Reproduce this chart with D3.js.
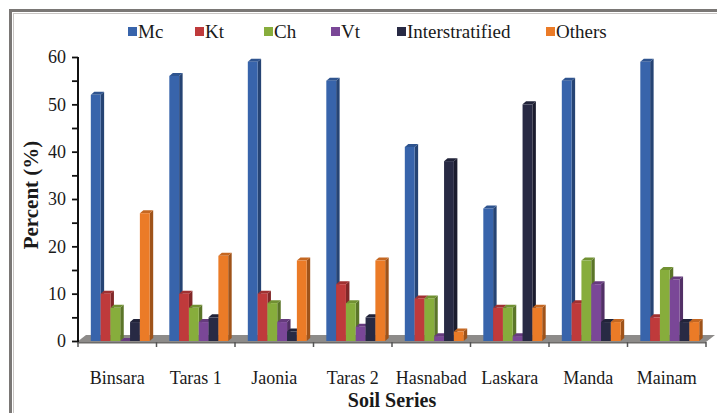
<!DOCTYPE html>
<html>
<head>
<meta charset="utf-8">
<script src="https://cdn.jsdelivr.net/npm/d3@7/dist/d3.min.js"></script>
<style>
  html, body { margin: 0; padding: 0; background: #ffffff; }
  svg text { font-family: "Liberation Serif", "Times New Roman", serif; }
</style>
</head>
<body>
<svg id="chart" width="717" height="413"></svg>
<script>
// Clay mineral composition of soil series (%)
const categories = ["Binsara", "Taras 1", "Jaonia", "Taras 2", "Hasnabad", "Laskara", "Manda", "Mainam"];
const seriesNames = ["Mc", "Kt", "Ch", "Vt", "Interstratified", "Others"];
const mc     = [52, 56, 59, 55, 41, 28, 55, 59];
const kt     = [10, 10, 10, 12,  9,  7,  8,  5];
const ch     = [ 7,  7,  8,  8,  9,  7, 17, 15];
const vt     = [ 0,  4,  4,  3,  1,  1, 12, 13];
const inter  = [ 4,  5,  2,  5, 38, 50,  4,  4];
const others = [27, 18, 17, 17,  2,  7,  4,  4];
const yTicks = [0, 10, 20, 30, 40, 50, 60];

const seriesValues = [mc, kt, ch, vt, inter, others];
const colors = ["#3864ab", "#bf3a3b", "#87ad3c", "#7a4797", "#282a44", "#eb7b27"];
const FONT = "'Liberation Serif', 'Times New Roman', serif";

const svg = d3.select("#chart");

// frame
svg.append("rect").attr("x", 10.5).attr("y", 10.5).attr("width", 760).attr("height", 460)
  .attr("fill", "#ffffff").attr("stroke", "#7a7775").attr("stroke-width", 3);
svg.append("rect").attr("x", 13.5).attr("y", 13.5).attr("width", 760).attr("height", 460)
  .attr("fill", "none").attr("stroke", "#c9c6c4").attr("stroke-width", 1);

const x0 = d3.scaleBand().domain(categories).range([78, 706]).paddingInner(0.25).paddingOuter(0.125);
const x1 = d3.scaleBand().domain(seriesNames).range([0, x0.bandwidth()]);
const y = d3.scaleLinear().domain([0, 60]).range([341, 57]);

const dx = 3.5, dy = -3;   // depth of the 3D columns
const shift = 3;           // columns sit slightly back on the floor

// floor
const fx0 = 77, fx1 = 706, fy = 342;
svg.append("polygon")
  .attr("points", [[fx0, fy], [fx1, fy], [fx1 + 9, fy - 7], [fx0 + 9, fy - 7]].map(p => p.join(",")).join(" "))
  .attr("fill", "#8d8b89");
svg.append("polygon")
  .attr("points", [[fx0, fy], [fx1, fy], [fx1, fy + 1.5], [fx0, fy + 1.5]].map(p => p.join(",")).join(" "))
  .attr("fill", "#6d6b69");

// columns
const shade = (c, k) => d3.color(c).darker(k).formatHex();
const groups = svg.append("g").selectAll("g")
  .data(categories)
  .join("g")
  .attr("transform", d => `translate(${x0(d) + shift},0)`);

groups.each(function (cat, ci) {
  const g = d3.select(this);
  seriesNames.forEach((s, si) => {
    const v = seriesValues[si][ci];
    const bx = x1(s), w = x1.bandwidth();
    const yt = y(v), yb = y(0);
    const c = colors[si];
    // side face
    g.append("polygon")
      .attr("points", [[bx + w, yt], [bx + w + dx, yt + dy], [bx + w + dx, yb + dy], [bx + w, yb]].map(p => p.join(",")).join(" "))
      .attr("fill", shade(c, 1.1));
    // top face
    g.append("polygon")
      .attr("points", [[bx, yt], [bx + dx, yt + dy], [bx + w + dx, yt + dy], [bx + w, yt]].map(p => p.join(",")).join(" "))
      .attr("fill", shade(c, 0.5));
    // front face
    g.append("rect").attr("x", bx).attr("y", yt).attr("width", w).attr("height", Math.max(0, yb - yt))
      .attr("fill", c);
  });
});

// y axis
const yAxis = d3.axisLeft(y).tickValues(d3.range(0, 61, 5)).tickSize(6)
  .tickFormat(d => yTicks.includes(d) ? d : "");
const ya = svg.append("g").attr("transform", "translate(78,0)").call(yAxis)
  .attr("font-family", FONT);
ya.select(".domain").attr("stroke", "#111").attr("stroke-width", 2).attr("d", "M0,57V342");
ya.selectAll(".tick line").attr("stroke", "#111").attr("stroke-width", 1.8);
ya.selectAll(".tick text").attr("font-size", 18).attr("fill", "#1a1a1a").attr("x", -12)
  .attr("font-family", FONT);

// x axis ticks at category boundaries
const bounds = d3.range(categories.length + 1).map(i => 78 + i * x0.step());
svg.append("g").selectAll("line").data(bounds).join("line")
  .attr("x1", d => d).attr("x2", d => d).attr("y1", fy).attr("y2", fy + 5)
  .attr("stroke", "#555").attr("stroke-width", 1.5);

// category labels
svg.append("g").selectAll("text").data(categories).join("text")
  .attr("x", d => x0(d) + x0.bandwidth() / 2)
  .attr("y", 384)
  .attr("text-anchor", "middle")
  .attr("font-family", FONT)
  .attr("font-size", 18).attr("fill", "#1a1a1a")
  .text(d => d);

// axis titles
svg.append("text").attr("x", 392).attr("y", 407).attr("text-anchor", "middle")
  .attr("font-family", FONT)
  .attr("font-size", 20).attr("font-weight", "bold").attr("fill", "#1a1a1a").text("Soil Series");
svg.append("text").attr("transform", "translate(38,195) rotate(-90)").attr("text-anchor", "middle")
  .attr("font-family", FONT)
  .attr("font-size", 21).attr("font-weight", "bold").attr("fill", "#1a1a1a").text("Percent (%)");

// legend
const legendX = [128, 195, 264, 331, 397, 546];
const lg = svg.append("g").selectAll("g").data(seriesNames).join("g")
  .attr("transform", (d, i) => `translate(${legendX[i]},31)`);
lg.append("rect").attr("x", 0).attr("y", -4).attr("width", 9).attr("height", 9)
  .attr("fill", (d, i) => colors[i]);
lg.append("text").attr("x", 10).attr("y", 6.5).attr("font-family", FONT)
  .attr("font-size", 19).attr("fill", "#1a1a1a").text(d => d);
</script>
</body>
</html>
